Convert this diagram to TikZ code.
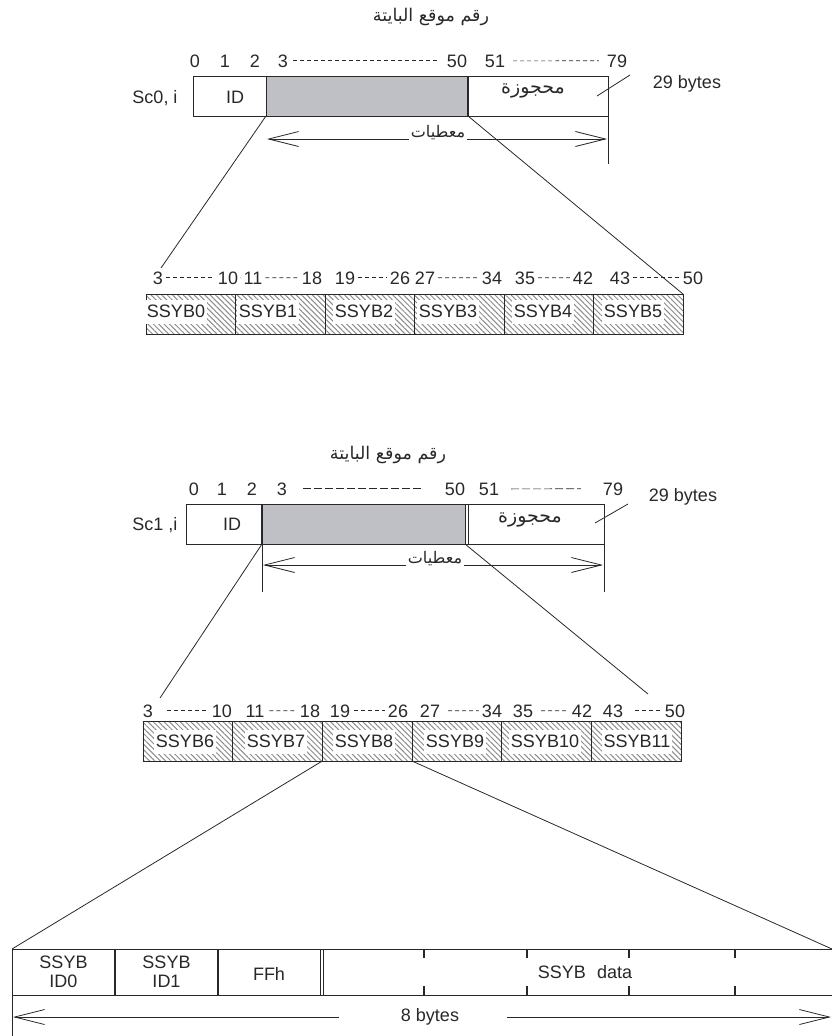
\documentclass[tikz,border=0pt]{standalone}
\usepackage{fontspec}
\setmainfont{Liberation Sans}
\newfontfamily\arabicfont[Script=Arabic]{DejaVu Sans}
\TeXXeTstate=1
\usetikzlibrary{arrows.meta,patterns.meta}
\definecolor{boxgray}{RGB}{190,192,198}
\definecolor{ink}{RGB}{40,40,40}
\begin{document}
\begin{tikzpicture}[x=1pt,y=-1pt,
  every node/.style={inner sep=0pt,outer sep=0pt,text=ink,font=\fontsize{18}{20}\selectfont},
  cell/.style={draw=ink,line width=0.9pt,rectangle,minimum height=40pt},
  graycell/.style={cell,fill=boxgray},
  hcell/.style={cell,pattern={Lines[angle=-45,distance=3.8pt,line width=1pt]},pattern color=black!45},
  wbox/.style={fill=white,inner xsep=1.5pt,inner ysep=0pt,text height=17pt,text depth=7pt},
  num/.style={anchor=base},
  arabT/.style={font=\arabicfont\fontsize{17.5}{20}\selectfont},
  arabR/.style={font=\arabicfont\fontsize{19}{22}\selectfont},
  arabM/.style={font=\arabicfont\fontsize{16}{19}\selectfont},
  ln/.style={draw=ink,line width=0.8pt},
  sep/.style={draw=ink,line width=2.4pt},
  barb/.style={draw=ink,line width=0.8pt,-{Straight Barb[length=30pt,width=15pt]}},
  dsh/.style={draw=ink,line width=0.7pt,dash pattern=on 4pt off 3pt},
  ldsh/.style={draw=ink,line width=0.7pt,dash pattern=on 8pt off 3pt},
  tick/.style={draw=ink,line width=2pt}]
\useasboundingbox (0,0) rectangle (832,1036);

% ---------------- Section 1 ----------------
\node[arabT] (title1) at (431,17) {\beginR رقم موقع البايتة\endR};
\foreach \n/\x in {0/195,1/225,2/255,3/283,50/457,51/495,79/617}
  \node[num] (t1n\n) at (\x,67) {\n};
\draw[dsh] ([xshift=5pt]t1n3.east) -- ([xshift=-8pt]t1n50.west);
\draw[dsh] ([xshift=8pt]t1n51.east) -- ([xshift=-8pt]t1n79.west);

\node[cell,minimum width=73pt] (id1) at (229.5,96) {};
\node[graycell,minimum width=202pt] (dat1) at (367,96) {};
\node[cell,minimum width=140pt] (res1) at (538,96) {};
\draw[sep] (dat1.north east) -- (dat1.south east);
\node[anchor=base] (sc0) at (155,103) {Sc0, i};
\node[anchor=base] (idl1) at (235,103) {ID};
\node[arabR] (resl1) at (533,91) {\beginR محجوزة\endR};
\node[anchor=base] (b29a) at (687,88) {29 bytes};
\coordinate (lead1a) at (597,96);
\coordinate (lead1b) at (630,75);
\draw[ln] (lead1a) -- (lead1b);

\coordinate (v1top) at (res1.south east);
\coordinate (v1bot) at (608,164);
\draw[ln] (v1top) -- (v1bot);
\coordinate (a1l) at (267,139);
\coordinate (a1r) at (607,139);
\node[arabM,fill=white,inner xsep=2pt,inner ysep=1pt] (mt1) at (438,133) {\beginR معطيات\endR};
\draw[barb] (mt1.west |- a1l) -- (a1l);
\draw[barb] (mt1.east |- a1r) -- (a1r);

% ---------------- Row 1 ----------------
\foreach \i/\tx in {0/176,1/268,2/364,3/448,4/543,5/633}{
  \node[hcell,minimum width=89.5pt] (r1c\i) at ({190.75+89.5*\i},314) {};
  \node[wbox,anchor=base] (r1t\i) at (\tx,317) {SSYB\i};
}
\foreach \n/\x in {3/158,10/228,11/253,18/312,19/345,26/400,27/425,34/492,35/525,42/583,43/620,50/693}
  \node[num] (r1n\n) at (\x,284) {\n};
\foreach \a/\b in {3/10,10/11,11/18,19/26,27/34,35/42,43/50}
  \draw[dsh] ([xshift=3pt]r1n\a.east) -- ([xshift=-3pt]r1n\b.west);

\coordinate (o1l) at (161,268);
\draw[ln] (dat1.south west) -- (o1l);
\draw[ln] (dat1.south east) -- (r1c5.north east);

% ---------------- Section 2 ----------------
\node[arabT] (title2) at (388,455) {\beginR رقم موقع البايتة\endR};
\foreach \n/\x in {0/194,1/222,2/252,3/282,50/455,51/489,79/613}
  \node[num] (t2n\n) at (\x,495) {\n};
\draw[ldsh] ([xshift=16pt]t2n3.east) -- ([xshift=-24pt]t2n50.west);
\draw[ldsh] ([xshift=12pt]t2n51.east) -- ([xshift=-22pt]t2n79.west);

\node[cell,minimum width=76pt] (id2) at (224,524) {};
\node[graycell,minimum width=203pt] (dat2) at (363.5,524) {};
\node[cell,minimum width=136pt] (res2) at (536,524) {};
\draw[ln] (dat2.north east) -- (res2.north west);
\draw[ln] (dat2.south east) -- (res2.south west);
\draw[sep] (dat2.north west) -- (dat2.south west);
\node[anchor=base] (sc1) at (155,530) {Sc1 ,i};
\node[anchor=base] (idl2) at (232,530) {ID};
\node[arabR] (resl2) at (530,520) {\beginR محجوزة\endR};
\node[anchor=base] (b29b) at (683,501) {29 bytes};
\coordinate (lead2a) at (595,523);
\coordinate (lead2b) at (628,504);
\draw[ln] (lead2a) -- (lead2b);

\coordinate (v2lbot) at (262,592);
\coordinate (v2rbot) at (604,592);
\draw[ln] (dat2.south west) -- (v2lbot);
\draw[ln] (res2.south east) -- (v2rbot);
\coordinate (a2l) at (263,565);
\coordinate (a2r) at (603,565);
\node[arabM,fill=white,inner xsep=2pt,inner ysep=1pt] (mt2) at (435,559) {\beginR معطيات\endR};
\draw[barb] (mt2.west |- a2l) -- (a2l);
\draw[barb] (mt2.east |- a2r) -- (a2r);

% ---------------- Row 2 ----------------
\foreach \i/\tx in {6/185,7/276,8/364,9/455,10/545,11/637}{
  \node[hcell,minimum width=89.67pt] (r2c\i) at ({187.8+89.67*(\i-6)},741) {};
  \node[wbox,anchor=base] (r2t\i) at (\tx,747) {SSYB\i};
}
\foreach \n/\x in {3/148,10/222,11/255,18/310,19/340,26/398,27/430,34/492,35/523,42/582,43/613,50/675}
  \node[num] (r2n\n) at (\x,717) {\n};
\foreach \a/\b/\s/\e in {3/10/14/3,11/18/5/3,19/26/4/3,27/34/8/3,35/42/8/3,43/50/12/3}
  \draw[dsh] ([xshift=\s pt]r2n\a.east) -- ([xshift=-\e pt]r2n\b.west);

\coordinate (o2l) at (160,698);
\coordinate (o2r) at (648,694);
\draw[ln] (dat2.south west) -- (o2l);
\draw[ln] (dat2.south east) -- (o2r);

% ---------------- Bottom box ----------------
\node[draw=ink,line width=0.9pt,minimum width=103pt,minimum height=46pt,align=center,
      font=\fontsize{18}{19}\selectfont] (b1) at (63.5,972) {SSYB\\ID0};
\node[draw=ink,line width=0.9pt,minimum width=103pt,minimum height=46pt,align=center,
      font=\fontsize{18}{19}\selectfont] (b2) at (166.5,972) {SSYB\\ID1};
\node[draw=ink,line width=0.9pt,minimum width=102pt,minimum height=46pt] (b3) at (269,972) {};
\node[anchor=base] (ffh) at (269,980) {FFh};
\node[minimum width=509pt,minimum height=46pt] (bd) at (577.5,972) {};
\draw[ln] (b3.north east) -- (bd.north west) -- (bd.north east);
\draw[ln] (b3.south east) -- (bd.south west) -- (bd.south east);
\draw[ln] (bd.north west) -- (bd.south west);
\draw[sep] (b1.north east) -- (b1.south east);
\draw[sep] (b2.north east) -- (b2.south east);
\foreach \x in {424,527,629,735}{
  \draw[tick] (\x,949) -- (\x,958);
  \draw[tick] (\x,986) -- (\x,995);
}
\node[anchor=base] (sdata) at (585,978) {SSYB\hspace{11pt}data};

\draw[ln] (r2c8.south west) -- (b1.north west);
\draw[ln] (r2c8.south east) -- (bd.north east);

\coordinate (b8l) at (13,1017);
\coordinate (b8r) at (831,1017);
\coordinate (vb) at (12,1036);
\draw[ln] (b1.south west) -- (vb);
\node[anchor=base] (eight) at (430,1021) {8 bytes};
\draw[barb] ([xshift=-62pt]eight.west |- b8l) -- (b8l);
\draw[barb] ([xshift=48pt]eight.east |- b8r) -- (b8r);
\end{tikzpicture}
\end{document}
